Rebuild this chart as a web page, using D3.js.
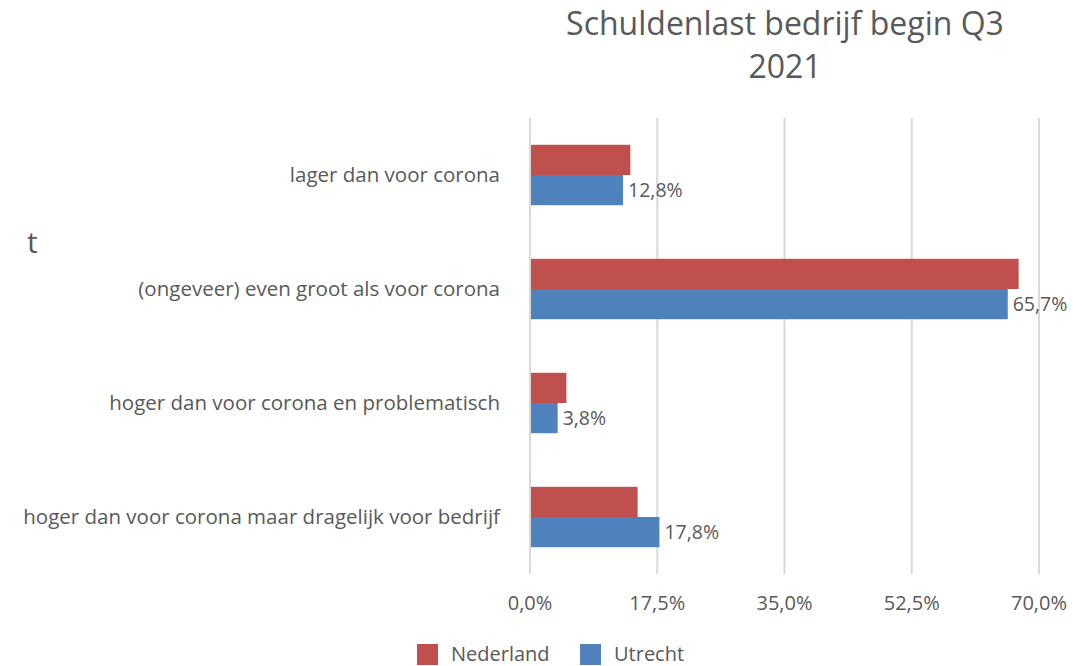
<!DOCTYPE html>
<html><head><meta charset="utf-8">
<script src="https://cdn.jsdelivr.net/npm/d3@7"></script>
<style>body{margin:0;background:#fff}svg{display:block}text{font-family:"Open Sans",sans-serif;fill:#595959}</style>
</head><body><svg id="c" width="1087" height="666"></svg>
<script>
const categories = ["lager dan voor corona","(ongeveer) even groot als voor corona","hoger dan voor corona en problematisch","hoger dan voor corona maar dragelijk voor bedrijf"];
const series = ["Nederland","Utrecht"];
const nederland = [13.8, 67.2, 5.0, 14.8];
const utrecht = [12.8, 65.7, 3.8, 17.8];
const ticks = [0, 17.5, 35, 52.5, 70];
const colors = ["#c0504d","#4f81bd"];
const titleLines = ["Schuldenlast bedrijf begin Q3","2021"];

const svg = d3.select("#c");
const x = d3.scaleLinear().domain([0,70]).range([530,1039]);
const y = d3.scaleBand().domain(categories).range([118,574]).paddingInner(0.47).paddingOuter(0.235);
const ys = d3.scaleBand().domain(series).range([0,y.bandwidth()]);
const fmt = v => d3.format(".1f")(v).replace(".",",") + "%";

svg.append("g").selectAll("line").data(ticks).join("line")
  .attr("x1",d=>x(d)).attr("x2",d=>x(d)).attr("y1",118).attr("y2",574)
  .attr("stroke","#d9d9d9").attr("stroke-width",2);

const vals = [nederland, utrecht];
series.forEach((s,si)=>{
  svg.append("g").selectAll("rect").data(categories).join("rect")
    .attr("x",x(0)+1).attr("y",d=>y(d)+ys(s))
    .attr("width",(d,i)=>x(vals[si][i])-x(0)-1).attr("height",ys.bandwidth())
    .attr("fill",colors[si]);
});
svg.append("g").selectAll("text").data(categories).join("text")
  .attr("x",(d,i)=>x(utrecht[i])+5).attr("y",d=>y(d)+ys("Utrecht")+ys.bandwidth()/2)
  .attr("dy","0.35em").attr("font-size",19.5).text((d,i)=>fmt(utrecht[i]));

svg.append("g").selectAll("text").data(categories).join("text")
  .attr("x",500).attr("y",d=>y(d)+y.bandwidth()/2).attr("dy","0.35em")
  .attr("text-anchor","end").attr("font-size",20.5).text(d=>d);

svg.append("g").selectAll("text").data(ticks).join("text")
  .attr("x",d=>x(d)).attr("y",603).attr("dy","0.35em").attr("text-anchor","middle")
  .attr("font-size",20).text(d=>fmt(d));

svg.append("g").selectAll("text").data(titleLines).join("text")
  .attr("x",785).attr("y",(d,i)=>24+i*43).attr("dy","0.35em").attr("text-anchor","middle")
  .attr("font-size",32).text(d=>d);

svg.append("text").attr("x",27).attr("y",242).attr("dy","0.35em").attr("font-size",30).text("t");

const leg = svg.append("g").selectAll("g").data(series).join("g")
  .attr("transform",(d,i)=>`translate(${[417,580][i]},644)`);
leg.append("rect").attr("width",21).attr("height",21).attr("fill",(d,i)=>colors[i]);
leg.append("text").attr("x",34).attr("y",10).attr("dy","0.35em").attr("font-size",20).text(d=>d);
</script></body></html>
